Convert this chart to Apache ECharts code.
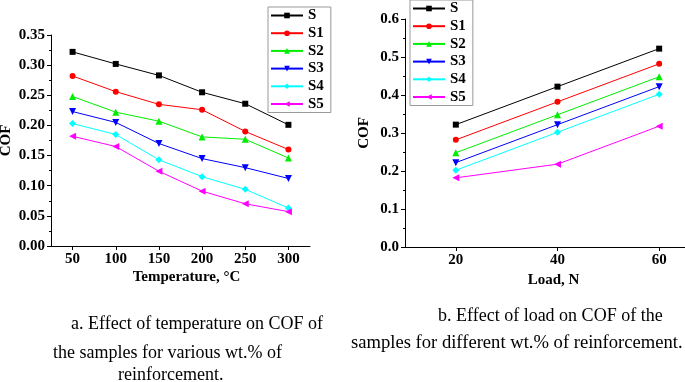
<!DOCTYPE html>
<html><head><meta charset="utf-8">
<script src="https://cdn.jsdelivr.net/npm/echarts@6/dist/echarts.min.js"></script>
<style>html,body{margin:0;padding:0;background:#fff;overflow:hidden}#c{width:685px;height:382px}</style>
</head><body><div id="c"></div>
<script>
const seriesNames = ['S','S1','S2','S3','S4','S5'];
const tempCategories = ['50','100','150','200','250','300'];
const loadCategories = ['20','40','60'];
const tempS  = [0.322,0.302,0.283,0.255,0.236,0.201];
const tempS1 = [0.282,0.256,0.235,0.226,0.190,0.160];
const tempS2 = [0.248,0.222,0.207,0.181,0.177,0.146];
const tempS3 = [0.223,0.205,0.170,0.145,0.130,0.112];
const tempS4 = [0.203,0.185,0.143,0.115,0.094,0.063];
const tempS5 = [0.182,0.165,0.124,0.091,0.070,0.057];
const loadS  = [0.322,0.422,0.522];
const loadS1 = [0.282,0.382,0.482];
const loadS2 = [0.248,0.348,0.448];
const loadS3 = [0.222,0.322,0.422];
const loadS4 = [0.202,0.302,0.402];
const loadS5 = [0.182,0.218,0.318];
const tempTicks = [0,0.05,0.10,0.15,0.20,0.25,0.30,0.35];
const loadTicks = [0,0.1,0.2,0.3,0.4,0.5,0.6];

const colors = ['#000000','#ff0000','#00ee00','#0000ff','#00ffff','#ff00ff'];
const symbols = ['rect','circle','triangle','triangle','diamond','triangle'];
const rotates = [0,0,0,180,0,90];
const sizes = [6,6,7,7,7,7];
const FONT = '"Liberation Serif","Times New Roman",serif';
const lbl = {color:'#000',fontFamily:FONT,fontWeight:'bold',fontSize:15};

function yAxis(gi, ticks, dec, gap){
  return {type:'value',gridIndex:gi,min:ticks[0],max:ticks[ticks.length-1],interval:ticks[1]-ticks[0],
    name:'COF',nameLocation:'middle',nameGap:gap,nameMoveOverlap:false,
    nameTextStyle:lbl,
    axisLine:{show:true,lineStyle:{color:'#000',width:1}},
    axisTick:{show:true,length:4,lineStyle:{color:'#000'}},
    minorTick:{show:true,splitNumber:2,length:2,lineStyle:{color:'#000'}},
    splitLine:{show:false},
    axisLabel:Object.assign({margin:6,formatter:v=>v.toFixed(dec)},lbl)};
}
function xAxis(gi, cats, name, gap, pad){
  return {type:'category',gridIndex:gi,data:cats,boundaryGap:true,name:name,nameLocation:'middle',nameGap:gap,
    nameMoveOverlap:false,
    nameTextStyle:Object.assign({padding:pad},lbl),
    axisLine:{show:true,lineStyle:{color:'#000',width:1}},
    axisTick:{show:true,alignWithLabel:true,length:4,lineStyle:{color:'#000'}},
    splitLine:{show:false},
    axisLabel:Object.assign({margin:6},lbl)};
}
const tempData = [tempS,tempS1,tempS2,tempS3,tempS4,tempS5];
const loadData = [loadS,loadS1,loadS2,loadS3,loadS4,loadS5];
const series = [];
[tempData, loadData].forEach((set, gi) => {
  set.forEach((d, i) => {
    series.push({name:seriesNames[i],type:'line',xAxisIndex:gi,yAxisIndex:gi,data:d,
      symbol:symbols[i],symbolRotate:rotates[i],symbolSize:sizes[i],showSymbol:true,
      lineStyle:{color:colors[i],width:1},itemStyle:{color:colors[i]},animation:false});
  });
});
function legend(left, top){
  return {orient:'vertical',left:left,top:top,data:seriesNames,itemWidth:32,itemHeight:7,itemGap:2.7,
    borderColor:'#999',borderWidth:1,padding:[1,7,1,2],
    textStyle:Object.assign({lineHeight:15},lbl),selectedMode:false};
}
const capStyle = {fill:'#000',font:'18px '+FONT};
const capStyle2 = {fill:'#000',font:'18.6px '+FONT};
const chart = echarts.init(document.getElementById('c'));
chart.setOption({
  backgroundColor:'#fff',
  animation:false,
  grid:[{left:51,top:35,width:259,height:211,containLabel:false,outerBoundsMode:'none'},
        {left:405,top:19,width:305,height:228,containLabel:false,outerBoundsMode:'none'}],
  xAxis:[xAxis(0,tempCategories,'Temperature, °C',24,[0,0,0,12]), xAxis(1,loadCategories,'Load, N',26,[0,8,0,0])],
  yAxis:[yAxis(0,tempTicks,2,37), yAxis(1,loadTicks,1,33)],
  legend:[legend(268,7), legend(410,0)],
  series:series,
  graphic:[
    {type:'text',left:71,top:315,style:Object.assign({text:'a. Effect of temperature on COF of'},capStyle)},
    {type:'text',left:53,top:344,style:Object.assign({text:'the samples for various wt.% of'},capStyle)},
    {type:'text',left:118,top:366,style:Object.assign({text:'reinforcement.'},capStyle)},
    {type:'text',left:438,top:307,style:Object.assign({text:'b. Effect of load on COF of the'},capStyle)},
    {type:'text',left:351,top:334,style:Object.assign({text:'samples for different wt.% of reinforcement.'},capStyle2)}
  ]
});
</script></body></html>
